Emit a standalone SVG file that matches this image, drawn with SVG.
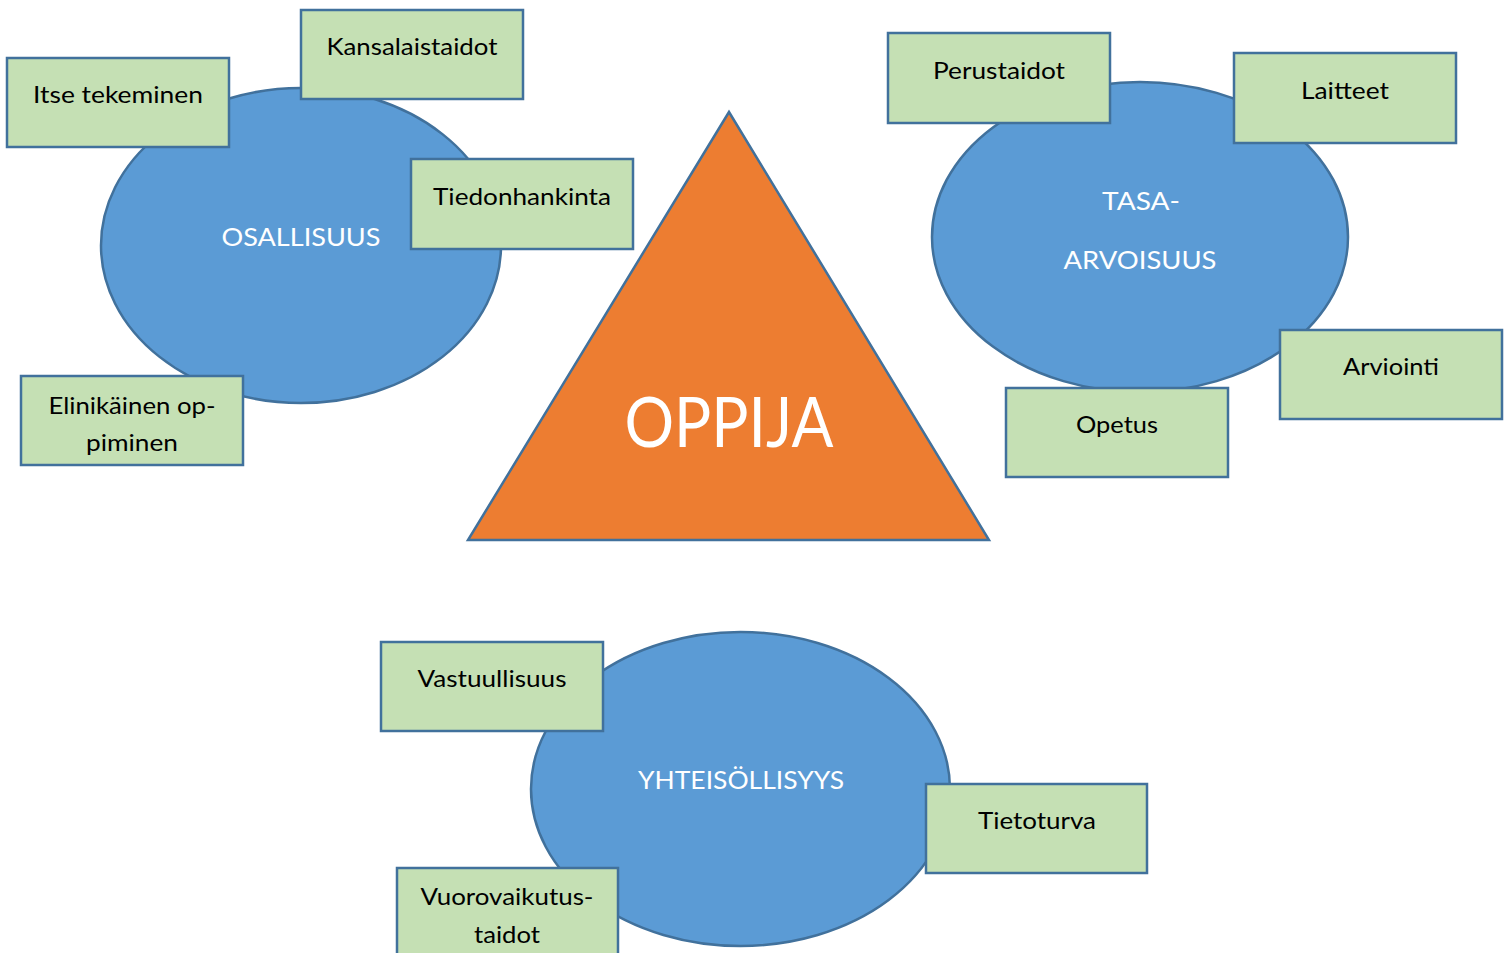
<svg xmlns="http://www.w3.org/2000/svg" width="1505" height="953" viewBox="0 0 1505 953">
<style>
.ell{fill:#5B9BD5;stroke:#41719C;stroke-width:2.5}
.box{fill:#C5E0B4;stroke:#41719C;stroke-width:2.5}
.tri{fill:#ED7D31;stroke:#41719C;stroke-width:2.5}
.bt{font-family:Lato,"Open Sans","Liberation Sans",sans-serif;font-size:24px;fill:#000;text-anchor:middle}
.wt{font-family:Lato,"Open Sans","Liberation Sans",sans-serif;font-size:25px;fill:#fff;text-anchor:middle}
.big{font-family:Lato,"Open Sans","Liberation Sans",sans-serif;font-size:70px;fill:#fff;text-anchor:middle}
</style>
<rect width="1505" height="953" fill="#fff"/>
<g id="connectors"/>
<g id="osallisuus">
<ellipse class="ell" cx="301" cy="245.5" rx="200" ry="157.5"/>
<text class="wt" x="301" y="246" textLength="159" lengthAdjust="spacingAndGlyphs">OSALLISUUS</text>
</g>
<g id="itse-tekeminen">
<rect class="box" x="7" y="58" width="222" height="89"/>
<text class="bt" x="118" y="103" textLength="170" lengthAdjust="spacingAndGlyphs">Itse tekeminen</text>
</g>
<g id="kansalaistaidot">
<rect class="box" x="301" y="10" width="222" height="89"/>
<text class="bt" x="412" y="55" textLength="171" lengthAdjust="spacingAndGlyphs">Kansalaistaidot</text>
</g>
<g id="tiedonhankinta">
<rect class="box" x="411" y="159" width="222" height="90"/>
<text class="bt" x="522" y="205" textLength="178" lengthAdjust="spacingAndGlyphs">Tiedonhankinta</text>
</g>
<g id="elinikainen">
<rect class="box" x="21" y="376" width="222" height="89"/>
<text class="bt" x="132" y="414" textLength="167" lengthAdjust="spacingAndGlyphs">Elinikäinen op-</text>
<text class="bt" x="132" y="451" textLength="92" lengthAdjust="spacingAndGlyphs">piminen</text>
</g>
<g id="tasa-arvoisuus">
<ellipse class="ell" cx="1140" cy="237" rx="208" ry="155"/>
<text class="wt" x="1141" y="210" textLength="78" lengthAdjust="spacingAndGlyphs">TASA-</text>
<text class="wt" x="1140" y="269" textLength="153" lengthAdjust="spacingAndGlyphs">ARVOISUUS</text>
</g>
<g id="perustaidot">
<rect class="box" x="888" y="33" width="222" height="90"/>
<text class="bt" x="999" y="79" textLength="132" lengthAdjust="spacingAndGlyphs">Perustaidot</text>
</g>
<g id="laitteet">
<rect class="box" x="1234" y="53" width="222" height="90"/>
<text class="bt" x="1345" y="99" textLength="88" lengthAdjust="spacingAndGlyphs">Laitteet</text>
</g>
<g id="arviointi">
<rect class="box" x="1280" y="330" width="222" height="89"/>
<text class="bt" x="1391" y="375" textLength="96" lengthAdjust="spacingAndGlyphs">Arviointi</text>
</g>
<g id="opetus">
<rect class="box" x="1006" y="388" width="222" height="89"/>
<text class="bt" x="1117" y="433" textLength="82" lengthAdjust="spacingAndGlyphs">Opetus</text>
</g>
<g id="oppija">
<polygon class="tri" points="729,112 989,540 468,540"/>
<text class="big" x="729" y="447" textLength="209" lengthAdjust="spacingAndGlyphs">OPPIJA</text>
</g>
<g id="yhteisollisyys">
<ellipse class="ell" cx="740.5" cy="789" rx="209.5" ry="157"/>
<text class="wt" x="741" y="789" textLength="206" lengthAdjust="spacingAndGlyphs">YHTEISÖLLISYYS</text>
</g>
<g id="vastuullisuus">
<rect class="box" x="381" y="642" width="222" height="89"/>
<text class="bt" x="492" y="687" textLength="149" lengthAdjust="spacingAndGlyphs">Vastuullisuus</text>
</g>
<g id="tietoturva">
<rect class="box" x="926" y="784" width="221" height="89"/>
<text class="bt" x="1037" y="829" textLength="118" lengthAdjust="spacingAndGlyphs">Tietoturva</text>
</g>
<g id="vuorovaikutus">
<rect class="box" x="397" y="868" width="221" height="95"/>
<text class="bt" x="507" y="905" textLength="173" lengthAdjust="spacingAndGlyphs">Vuorovaikutus-</text>
<text class="bt" x="507" y="943" textLength="66" lengthAdjust="spacingAndGlyphs">taidot</text>
</g>
</svg>
